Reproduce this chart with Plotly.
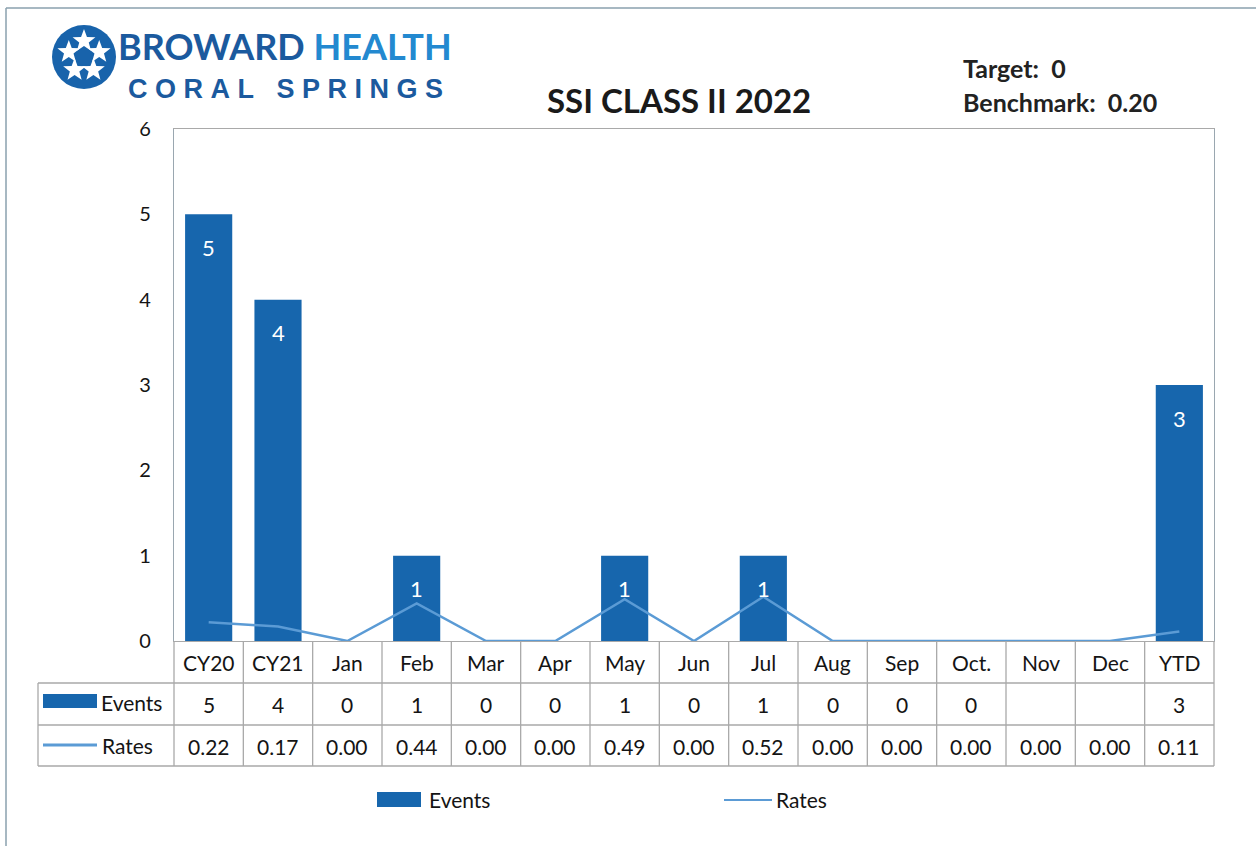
import math
import plotly.graph_objects as go

# data
categories = ["CY20", "CY21", "Jan", "Feb", "Mar", "Apr", "May", "Jun",
              "Jul", "Aug", "Sep", "Oct.", "Nov", "Dec", "YTD"]
events = [5, 4, 0, 1, 0, 0, 1, 0, 1, 0, 0, 0, None, None, 3]
rates = [0.22, 0.17, 0.00, 0.44, 0.00, 0.00, 0.49, 0.00, 0.52, 0.00,
         0.00, 0.00, 0.00, 0.00, 0.11]
y_ticks = [0, 1, 2, 3, 4, 5, 6]

BAR = "#1766ad"
LINE = "#5b9bd5"
GRID = "#a9a9a9"
TXT = "#141414"
FONT = "Lato, Noto Sans, sans-serif"

# plot area in pixels
W, H = 1256, 846
L, R, T, B = 174, 1214, 129, 641


def fx(p):
    return (p - L) / (R - L)


def fy(p):
    return (B - p) / (B - T)


def label(x, y, text, size=21, color=TXT, xanchor="center", family=FONT, **kw):
    return dict(x=fx(x), y=fy(y), xref="paper", yref="paper", text=text,
                xanchor=xanchor, yanchor="middle", showarrow=False,
                font=dict(family=family, size=size, color=color), **kw)


fig = go.Figure()

fig.add_trace(go.Bar(
    x=categories, y=events, width=0.68,
    marker=dict(color=BAR, line_width=0),
    name="Events", hoverinfo="x+y",
))
fig.add_trace(go.Scatter(
    x=categories, y=rates, mode="lines",
    line=dict(color=LINE, width=2.5),
    name="Rates",
))

shapes = []
ann = []

# bar value labels
for c, v in zip(categories, events):
    if v:
        ann.append(dict(x=c, y=v, xref="x", yref="y", text=str(v), showarrow=False,
                        yanchor="middle", yshift=-33,
                        font=dict(family=FONT, size=22, color="white")))

# data table
n = len(categories)
rows_y = [641, 683, 725, 766]
for y in rows_y[1:]:
    shapes.append(dict(type="line", xref="paper", yref="paper", x0=fx(38), x1=1,
                       y0=fy(y), y1=fy(y), line=dict(color=GRID, width=1.3)))
for k in range(n + 1):
    shapes.append(dict(type="line", xref="paper", yref="paper", x0=k / n, x1=k / n,
                       y0=fy(641), y1=fy(766), line=dict(color=GRID, width=1.3)))
shapes.append(dict(type="line", xref="paper", yref="paper", x0=fx(38), x1=fx(38),
                   y0=fy(683), y1=fy(766), line=dict(color=GRID, width=1.3)))

row_font = dict(family=FONT, size=21, color=TXT)
for c in categories:
    ann.append(dict(x=c, y=fy(662), xref="x", yref="paper", text=c, showarrow=False,
                    yanchor="middle", font=row_font))
for c, v in zip(categories, events):
    ann.append(dict(x=c, y=fy(704), xref="x", yref="paper",
                    text="" if v is None else str(v), showarrow=False,
                    yanchor="middle", font=row_font))
for c, v in zip(categories, rates):
    ann.append(dict(x=c, y=fy(746), xref="x", yref="paper", text=f"{v:.2f}",
                    showarrow=False, yanchor="middle", font=row_font))

# table legend keys
shapes.append(dict(type="rect", xref="paper", yref="paper", x0=fx(43), x1=fx(97),
                   y0=fy(708), y1=fy(694), fillcolor=BAR, line_width=0))
shapes.append(dict(type="line", xref="paper", yref="paper", x0=fx(43), x1=fx(97),
                   y0=fy(745), y1=fy(745), line=dict(color=LINE, width=3)))
ann.append(label(99, 702, "Events", xanchor="left"))
ann.append(label(100, 745, "Rates", xanchor="left"))

# bottom legend
shapes.append(dict(type="rect", xref="paper", yref="paper", x0=fx(377), x1=fx(421),
                   y0=fy(807), y1=fy(792), fillcolor=BAR, line_width=0))
shapes.append(dict(type="line", xref="paper", yref="paper", x0=fx(724), x1=fx(772),
                   y0=fy(800), y1=fy(800), line=dict(color=LINE, width=2)))
ann.append(label(427, 799, "Events", xanchor="left"))
ann.append(label(774, 799, "Rates", xanchor="left"))

# title and target text
ann.append(label(679, 100, "<b>SSI CLASS II 2022</b>", size=33, color="#1a1a1a"))
ann.append(label(961, 68, "<b>Target:  0</b>", size=25, color="#222", xanchor="left"))
ann.append(label(961, 102, "<b>Benchmark:  0.20</b>", size=25, color="#222",
                 xanchor="left"))

# logo: blue disc with five white stars
cx, cy, rr = 84, 57, 32
shapes.append(dict(type="circle", xref="paper", yref="paper", x0=fx(cx - rr), x1=fx(cx + rr),
                   y0=fy(cy + rr), y1=fy(cy - rr), fillcolor="#1863ab", line_width=0))
for i in range(5):
    a = math.radians(-90 + 72 * i)
    sx, sy = cx + 16 * math.cos(a), cy + 16 * math.sin(a)
    pts = []
    for k in range(10):
        rad = 12 if k % 2 == 0 else 5
        b = a + math.radians(36 * k)
        pts.append(f"{fx(sx + rad * math.cos(b)):.5f},{fy(sy + rad * math.sin(b)):.5f}")
    shapes.append(dict(type="path", xref="paper", yref="paper",
                       path="M" + " L".join(pts) + " Z",
                       fillcolor="white", line_width=0))
ann.append(label(116, 46,
                 "<b><span style='color:#1b5a9e'>BROWARD</span> "
                 "<span style='color:#2389d0'>HEALTH</span></b>",
                 size=36, xanchor="left"))
ann.append(label(126, 89,
                 "<b>C&nbsp;O&nbsp;R&nbsp;A&nbsp;L&nbsp;&nbsp;&nbsp;S&nbsp;P&nbsp;R&nbsp;I&nbsp;N&nbsp;G&nbsp;S</b>",
                 size=27, color="#1b5a9e", xanchor="left",
                 family="Liberation Sans, sans-serif"))

# outer frame (top and left edge of the scan)
shapes.append(dict(type="line", xref="paper", yref="paper", x0=fx(6), x1=fx(1256),
                   y0=fy(8), y1=fy(8), line=dict(color="#8aa0ae", width=1.5)))
shapes.append(dict(type="line", xref="paper", yref="paper", x0=fx(6), x1=fx(6),
                   y0=fy(8), y1=fy(846), line=dict(color="#8aa0ae", width=1.5)))

fig.update_layout(
    width=W, height=H,
    margin=dict(l=L, r=W - R, t=T, b=H - B),
    paper_bgcolor="white", plot_bgcolor="white",
    showlegend=False,
    font=dict(family=FONT, color=TXT),
    xaxis=dict(type="category", range=[-0.5, n - 0.5], showticklabels=False,
               showgrid=False, showline=True, mirror=True, linecolor=GRID,
               linewidth=1.3, ticks=""),
    yaxis=dict(range=[0, 6], tickvals=y_ticks, showgrid=False, zeroline=False,
               showline=True, mirror=True, linecolor="#9aa7b0", linewidth=1.3,
               ticks="", ticklabelstandoff=18,
               tickfont=dict(family=FONT, size=20, color=TXT)),
    shapes=shapes,
    annotations=ann,
)

fig.write_html("out.html", config={"displayModeBar": False},
               post_script="document.body.style.margin='0px';")
